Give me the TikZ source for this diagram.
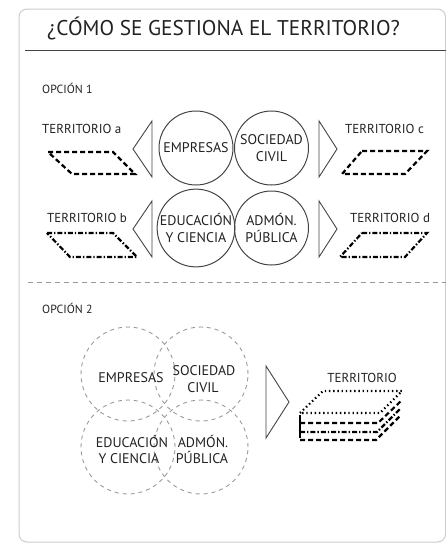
\documentclass[tikz,border=0pt]{standalone}
\usepackage{fontspec}
\setmainfont{PT Sans}
\usetikzlibrary{calc}
\definecolor{txt}{HTML}{222222}
\definecolor{frame}{HTML}{CCCCCC}
\definecolor{ln}{HTML}{444444}
\definecolor{dsh}{HTML}{999999}
\begin{document}
\begin{tikzpicture}[x=1pt,y=-1pt,
  lbl/.style={text=txt,inner sep=0pt,font=\fontsize{13}{15}\selectfont},
  head/.style={text=txt,inner sep=0pt,font=\fontsize{11.8}{14}\selectfont},
  solidcirc/.style={circle,draw=ln,line width=1pt,minimum size=74pt,inner sep=0pt,text=txt,align=center,font=\fontsize{14}{17}\selectfont},
  dashcirc/.style={circle,draw=dsh,line width=0.9pt,dash pattern=on 4pt off 4pt,minimum size=94pt,inner sep=0pt},
  tri/.style={draw=ln,line width=0.9pt,line join=miter},
  terra/.style={draw=black,line width=2.2pt,dash pattern=on 5pt off 3pt},
  terrb/.style={draw=black,line width=2.2pt,dash pattern=on 5pt off 2pt on 1.4pt off 2pt},
  terrdot/.style={draw=black,line width=2.2pt,dash pattern=on 1.4pt off 2.8pt},
  olbl/.style={text=txt,inner sep=0pt,align=center,font=\fontsize{14}{17}\selectfont}
]
\useasboundingbox (0,0) rectangle (446,544);
% frame
\draw[frame,line width=1pt,rounded corners=8pt] (19,9) rectangle (445.5,542);
\node[text=txt,inner sep=0pt,anchor=base west,font=\fontsize{21.3}{25}\selectfont] (title) at (47,35) {¿CÓMO SE GESTIONA EL TERRITORIO?};
\draw[ln,line width=1pt] (25,50) -- (445.5,50);

% OPCION 1
\node[head,anchor=base west] (op1) at (42,93) {OPCIÓN 1};
\node[lbl,anchor=base west] (ta) at (42,133) {TERRITORIO a};
\node[lbl,anchor=base west] (tb) at (47,222) {TERRITORIO b};
\node[lbl,anchor=base west] (tc) at (345,133) {TERRITORIO c};
\node[lbl,anchor=base west] (td) at (350,222) {TERRITORIO d};

\node[solidcirc] (emp) at (196,148) {EMPRESAS};
\node[solidcirc] (soc) at (271.5,148) {SOCIEDAD\\CIVIL};
\node[solidcirc] (edu) at (196,228) {EDUCACIÓN\\Y CIENCIA};
\node[solidcirc] (adm) at (271.5,228) {ADMÓN.\\PÚBLICA};

% triangles
\draw[tri] (152,121) -- (133,149) -- (152,177) -- cycle;
\draw[tri] (152,201) -- (133,229) -- (152,257) -- cycle;
\draw[tri] (319,121) -- (337,149) -- (319,177) -- cycle;
\draw[tri] (319,201) -- (337,229) -- (319,257) -- cycle;

% parallelograms
\draw[terra] (48,152) -- (113,152) -- (135,174) -- (72,174) -- cycle;
\draw[terrb] (47,233) -- (113,233) -- (137,257) -- (70,257) -- cycle;
\draw[terra] (362,151) -- (427,151) -- (405,174) -- (342,174) -- cycle;
\draw[terrb] (362,233) -- (427,233) -- (405,257) -- (340,257) -- cycle;

% separator
\draw[dsh,line width=1pt,dash pattern=on 5pt off 4pt] (28,282) -- (445.5,282);

% OPCION 2
\node[head,anchor=base west] (op2) at (42,313) {OPCIÓN 2};
\node[dashcirc] (c1) at (128,374) {};
\node[dashcirc] (c2) at (201,374) {};
\node[dashcirc] (c3) at (128,447) {};
\node[dashcirc] (c4) at (201,447) {};
\node[olbl,anchor=base] (l1) at (131,382) {EMPRESAS};
\node[olbl,anchor=base] (l2) at (204,375) {SOCIEDAD};
\node[olbl,anchor=base] (l2b) at (203,392) {CIVIL};
\node[olbl,anchor=base] (l3) at (132,447) {EDUCACIÓN};
\node[olbl,anchor=base] (l3b) at (129,463) {Y CIENCIA};
\node[olbl,anchor=base] (l4) at (203,447) {ADMÓN.};
\node[olbl,anchor=base] (l4b) at (202,463) {PÚBLICA};

\draw[tri] (266,366) -- (289,402) -- (266,438) -- cycle;
\node[lbl,anchor=base] (tt) at (362,382) {TERRITORIO};

% stacked territory
\draw[terra] (300,440) -- (376,440) -- (400,416);
\draw[terrb] (300,432) -- (377,432) -- (401,408);
\draw[terra] (300,423) -- (378,423) -- (402,400);
\draw[terrdot] (300,413) -- (323,391) -- (402,391) -- (380,413) -- cycle;
\draw[black,line width=1.5pt] (300,415) -- (300,438);
\end{tikzpicture}
\end{document}
